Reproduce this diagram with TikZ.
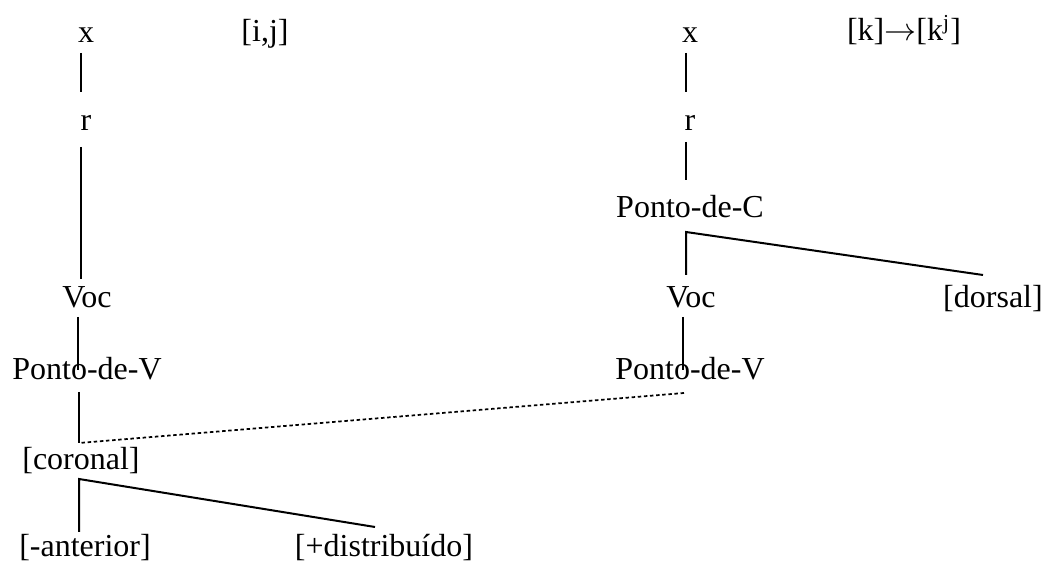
\documentclass[tikz,border=0pt]{standalone}
\usepackage{fontspec}
\setmainfont{Liberation Serif}
\usetikzlibrary{positioning}

\tikzset{
  feat/.style={anchor=base, inner sep=0pt, font=\fontsize{12}{14}\selectfont},
  assoc/.style={line width=0.75pt},
  spread/.style={line width=0.65pt, dash pattern=on 1.3pt off 1pt}
}

\begin{document}
\begin{tikzpicture}[x=0.375pt, y=-0.375pt]
\useasboundingbox (0,0) rectangle (1044,562);

% palatalizacao [i,j]
\node[feat] (xL)   at (86,43)  {x};
\node[feat] (segL) at (265,42) {[i,j]};
\node[feat] (rL)   at (86,131) {r};
\node[feat] (vocL) at (87,308) {Voc};
\node[feat] (pvL)  at (87,380) {Ponto-de-V};
\node[feat] (cor)  at (81,470) {[coronal]};
\node[feat] (ant)  at (85,557) {[-anterior]};
\node[feat] (dist) at (384,557) {[+distribuído]};

% [k] -> [k^j]
\node[feat] (xR)   at (690,43)  {x};
\node[feat] (segR) at (904,41)  {[k]$\rightarrow$[k\textsuperscript{j}]};
\node[feat] (rR)   at (690,131) {r};
\node[feat] (pcR)  at (690,218) {Ponto-de-C};
\node[feat] (vocR) at (691,308) {Voc};
\node[feat] (dor)  at (993,308) {[dorsal]};
\node[feat] (pvR)  at (690,380) {Ponto-de-V};

% pontos das linhas
\coordinate (xL-r)   at (81,53);
\coordinate (rL-x)   at (81,92);
\coordinate (rL-v)   at (81,147);
\coordinate (vocL-r) at (81,279);
\coordinate (vocL-p) at (78,317);
\coordinate (pvL-v)  at (78,370);
\coordinate (pvL-c)  at (79,392);
\coordinate (cor-p)  at (79,443);
\coordinate (cor-b)  at (79,479);
\coordinate (ant-c)  at (79,532);
\coordinate (dist-c) at (375,527);

\coordinate (xR-r)   at (686,53);
\coordinate (rR-x)   at (686,92);
\coordinate (rR-p)   at (686,142);
\coordinate (pcR-r)  at (686,180);
\coordinate (pcR-b)  at (686,232);
\coordinate (vocR-p) at (686,275);
\coordinate (dor-p)  at (983,275);
\coordinate (vocR-v) at (683,317);
\coordinate (pvR-v)  at (683,370);
\coordinate (pvR-c)  at (684,393);

\draw[assoc] (xL-r) -- (rL-x);
\draw[assoc] (rL-v) -- (vocL-r);
\draw[assoc] (vocL-p) -- (pvL-v);
\draw[assoc] (pvL-c) -- (cor-p);
\draw[assoc] (ant-c) -- (cor-b) -- (dist-c);

\draw[assoc] (xR-r) -- (rR-x);
\draw[assoc] (rR-p) -- (pcR-r);
\draw[assoc] (vocR-p) -- (pcR-b) -- (dor-p);
\draw[assoc] (vocR-v) -- (pvR-v);

\draw[spread] (pvR-c) -- (cor-p);
\end{tikzpicture}
\end{document}
